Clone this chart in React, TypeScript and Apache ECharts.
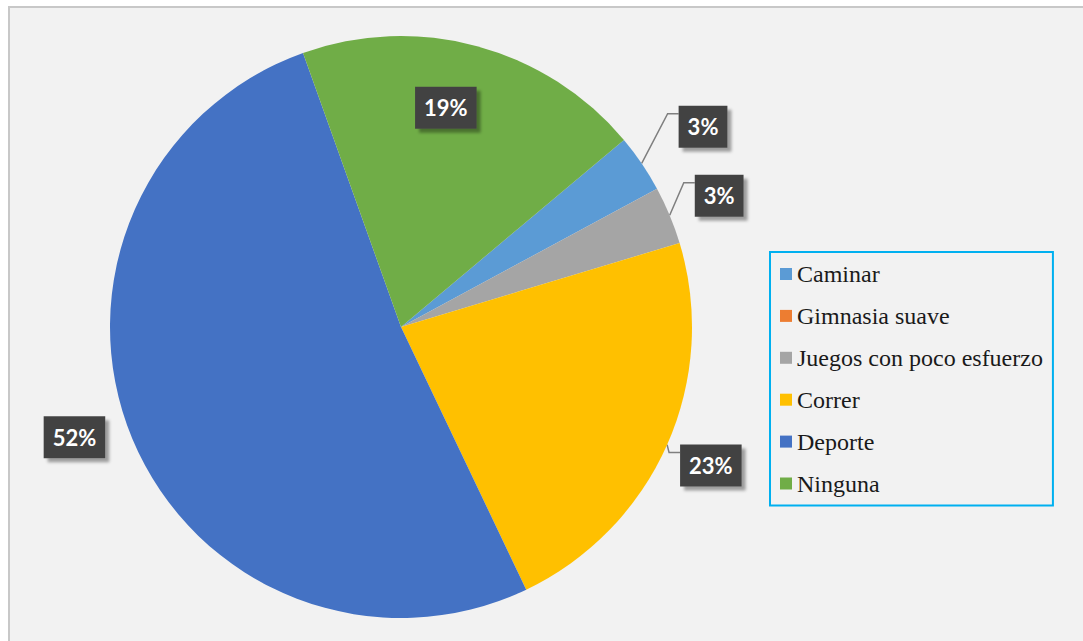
import React, { useEffect, useRef } from "react";
import * as echarts from "echarts";

const categories = ["Caminar", "Gimnasia suave", "Juegos con poco esfuerzo", "Correr", "Deporte", "Ninguna"];
const counts = [1, 0, 1, 7, 16, 6];
const colors = ["#5b9bd5", "#ed7d31", "#a5a5a5", "#ffc000", "#4472c4", "#70ad47"];
// label nudges (dx, dy) per category, in px
const labelShift: Record<string, [number, number]> = {
  Caminar: [8, -30],
  "Juegos con poco esfuerzo": [-5, -15],
  Correr: [-17, 16],
  Deporte: [3, -6],
  Ninguna: [6, -76],
};

export default function App() {
  const ref = useRef<HTMLDivElement>(null);
  useEffect(() => {
    const chart = echarts.init(ref.current!, null, { renderer: "svg" });
    const labelBase = {
      show: true,
      formatter: (p: any) => Math.round(p.percent) + "%",
      color: "#ffffff",
      fontFamily: "Lato",
      fontWeight: "bold",
      fontSize: 22,
      lineHeight: 22,
      backgroundColor: "#434343",
      padding: [11, 9, 9, 9],
      shadowColor: "rgba(0,0,0,0.35)",
      shadowBlur: 3,
      shadowOffsetX: 4,
      shadowOffsetY: 4,
    };
    chart.setOption({
      animation: false,
      backgroundColor: "#f2f2f2",
      legend: {
        orient: "vertical",
        left: 760,
        top: 244,
        padding: [10, 10, 10, 10],
        borderColor: "#00b0f0",
        borderWidth: 2,
        itemWidth: 12,
        itemHeight: 12,
        itemGap: 17.9,
        icon: "rect",
        selectedMode: false,
        textStyle: {
          fontFamily: "'Liberation Serif', 'Times New Roman', serif",
          fontSize: 24,
          color: "#1a1a1a",
          lineHeight: 24,
        },
        data: categories,
      },
      series: [
        {
          type: "pie",
          center: [391, 319],
          radius: 291,
          startAngle: 40,
          clockwise: true,
          avoidLabelOverlap: false,
          label: { ...labelBase, position: "outside" },
          labelLine: { show: true, length: 12, length2: 14, lineStyle: { color: "#7f7f7f", width: 1.5 } },
          labelLayout: (p: any) => {
            const name = categories[p.dataIndex];
            const s = labelShift[name];
            if (!s) return {};
            const out: any = { dx: s[0], dy: s[1] };
            if (p.labelLinePoints && name !== "Deporte" && name !== "Ninguna") {
              const left = p.labelRect.x + s[0];
              const top = p.labelRect.y + s[1];
              out.labelLinePoints = [p.labelLinePoints[0], [left - 11, top + 8], [left, top + 8]];
            }
            return out;
          },
          emphasis: { disabled: true },
          data: categories.map((c, i) => {
            const item: any = { name: c, value: counts[i], itemStyle: { color: colors[i] } };
            if (counts[i] === 0) {
              item.label = { show: false };
              item.labelLine = { show: false };
            }
            if (c === "Ninguna") {
              item.label = { position: "inside" };
            }
            if (c === "Deporte") {
              item.labelLine = { show: false };
            }
            return item;
          }),
        },
      ],
    });
    return () => chart.dispose();
  }, []);
  return (
    <div
      style={{
        position: "fixed",
        left: 8,
        top: 6,
        width: 1090,
        height: 650,
        borderLeft: "2px solid #c8c8c8",
        borderTop: "2px solid #c8c8c8",
        boxSizing: "border-box",
      }}
    >
      <div ref={ref} style={{ width: 1088, height: 648 }} />
    </div>
  );
}
